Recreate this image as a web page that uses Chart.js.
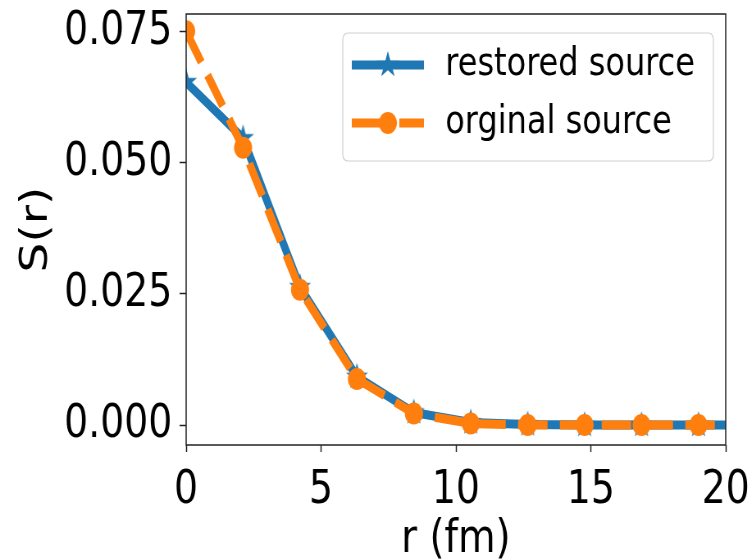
<!DOCTYPE html>
<html>
<head>
<meta charset="utf-8">
<script src="https://cdn.jsdelivr.net/npm/chart.js@4/dist/chart.umd.min.js"></script>
<style>
  html, body { margin: 0; padding: 0; overflow: hidden; background: #fff; }
  /* the reference figure is squeezed horizontally, so draw wide and squeeze */
  #wrap { width: 918px; height: 560px; transform: scaleX(0.82); transform-origin: 0 0; }
</style>
</head>
<body>
<div id="wrap"><canvas id="chart" width="918" height="560"></canvas></div>
<script>
var rValues = [0, 2.11, 4.22, 6.33, 8.44, 10.55, 12.66, 14.77, 16.88, 18.99, 21.1];
var restoredSource = [0.0654, 0.0547, 0.0263, 0.0092, 0.0024, 0.0005, 0.0001, 0, 0, 0, 0];
var orginalSource = [0.0751, 0.0529, 0.0258, 0.0088, 0.0022, 0.0003, 0, 0, 0, 0, 0];
var seriesLabels = ['restored source', 'orginal source'];
var xTicks = [0, 5, 10, 15, 20];
var yTicks = [0, 0.025, 0.05, 0.075];

var blue = '#1f77b4';
var orange = '#ff7f0e';
var font = 'DejaVu Sans';

function makeStar(R, color) {
    var size = Math.ceil(2 * R) + 2;
    var c = document.createElement('canvas');
    c.width = size;
    c.height = size;
    var g = c.getContext('2d');
    g.translate(size / 2, size / 2);
    g.beginPath();
    for (var i = 0; i < 10; i++) {
        var rr = i % 2 ? R * 0.382 : R;
        var a = -Math.PI / 2 + i * Math.PI / 5;
        g.lineTo(rr * Math.cos(a), rr * Math.sin(a));
    }
    g.closePath();
    g.fillStyle = color;
    g.fill();
    return c;
}
var star = makeStar(14, blue);

function points(ys) {
    return rValues.map(function (x, i) { return { x: x, y: ys[i] }; });
}

// frame round the axes and a matplotlib-like legend inside the plot
var framePlugin = {
    id: 'frameAndLegend',
    afterDraw: function (chart) {
        var ctx = chart.ctx;
        var a = chart.chartArea;
        ctx.save();
        ctx.strokeStyle = '#222';
        ctx.lineWidth = 1.5;
        ctx.strokeRect(a.left, a.top, a.right - a.left, a.bottom - a.top);

        var bx = a.right - 467, by = a.top + 19, bw = 452, bh = 128;
        ctx.beginPath();
        ctx.roundRect(bx, by, bw, bh, 6);
        ctx.fillStyle = 'rgba(255,255,255,0.8)';
        ctx.fill();
        ctx.strokeStyle = '#d0d0d0';
        ctx.lineWidth = 1.2;
        ctx.stroke();

        var rows = [by + 32, by + 90];
        chart.data.datasets.slice().sort(function (p, q) { return p.legendIndex - q.legendIndex; }).forEach(function (ds, i) {
            var y = rows[i];
            var x0 = bx + 11, x1 = bx + 99, xm = bx + 55;
            ctx.beginPath();
            ctx.moveTo(x0, y);
            ctx.lineTo(x1, y);
            ctx.strokeStyle = ds.borderColor;
            ctx.lineWidth = ds.borderWidth;
            ctx.lineCap = 'butt';
            ctx.setLineDash(ds.borderDash.length ? [43, 15] : []);
            ctx.stroke();
            ctx.setLineDash([]);
            if (ds.pointStyle === 'circle') {
                ctx.beginPath();
                ctx.arc(xm, y, ds.pointRadius, 0, Math.PI * 2);
                ctx.fillStyle = ds.pointBackgroundColor;
                ctx.fill();
            } else {
                ctx.drawImage(ds.pointStyle, xm - ds.pointStyle.width / 2, y - ds.pointStyle.height / 2);
            }
            ctx.fillStyle = '#000';
            ctx.font = '39px "' + font + '"';
            ctx.textBaseline = 'middle';
            ctx.textAlign = 'left';
            ctx.fillText(ds.label, bx + 125, y);
        });
        ctx.restore();
    }
};

var ctx = document.getElementById('chart').getContext('2d');
var chart = new Chart(ctx, {
    type: 'line',
    data: {
        datasets: [{
            label: seriesLabels[0],
            legendIndex: 0,
            data: points(restoredSource),
            borderColor: blue,
            backgroundColor: blue,
            borderWidth: 9,
            borderDash: [],
            borderJoinStyle: 'round',
            pointStyle: star,
            pointRadius: 14,
            pointBackgroundColor: blue,
            pointBorderWidth: 0,
            tension: 0,
            clip: 0,
            order: 1
        }, {
            label: seriesLabels[1],
            legendIndex: 1,
            data: points(orginalSource),
            borderColor: orange,
            backgroundColor: orange,
            borderWidth: 9,
            borderDash: [36, 15],
            borderCapStyle: 'butt',
            borderJoinStyle: 'round',
            pointStyle: 'circle',
            pointRadius: 11,
            pointBackgroundColor: orange,
            pointBorderWidth: 0,
            tension: 0,
            clip: 0,
            order: 0
        }]
    },
    options: {
        responsive: false,
        animation: false,
        devicePixelRatio: 1,
        layout: { padding: { top: 13, right: 33, left: 0, bottom: 0 } },
        plugins: {
            legend: { display: false },
            tooltip: { enabled: false }
        },
        scales: {
            x: {
                type: 'linear',
                min: 0,
                max: 20,
                afterBuildTicks: function (s) { s.ticks = xTicks.map(function (v) { return { value: v }; }); },
                afterFit: function (s) { s.height = 115; s.paddingLeft = 0; s.paddingRight = 0; },
                border: { display: false },
                grid: { drawOnChartArea: false, drawTicks: true, tickLength: 7, tickWidth: 1.5, color: '#222' },
                ticks: { color: '#000', padding: 11, maxRotation: 0, font: { family: font, size: 46 } },
                title: { display: true, text: 'r (fm)', color: '#000', font: { family: font, size: 47 }, padding: { top: 0, bottom: -8 } }
            },
            y: {
                type: 'linear',
                min: -0.0038,
                max: 0.0784,
                afterBuildTicks: function (s) { s.ticks = yTicks.map(function (v) { return { value: v }; }); },
                afterFit: function (s) { s.width = 227; s.paddingTop = 0; s.paddingBottom = 0; },
                border: { display: false },
                grid: { drawOnChartArea: false, drawTicks: true, tickLength: 8, tickWidth: 1.5, color: '#222' },
                ticks: {
                    color: '#000',
                    padding: 9,
                    font: { family: font, size: 46 },
                    callback: function (v) { return v.toFixed(3); }
                },
                title: { display: true, text: 'S(r)', color: '#000', font: { family: font, size: 47 }, padding: { top: 17, bottom: 0 } }
            }
        }
    },
    plugins: [framePlugin]
});
</script>
</body>
</html>
